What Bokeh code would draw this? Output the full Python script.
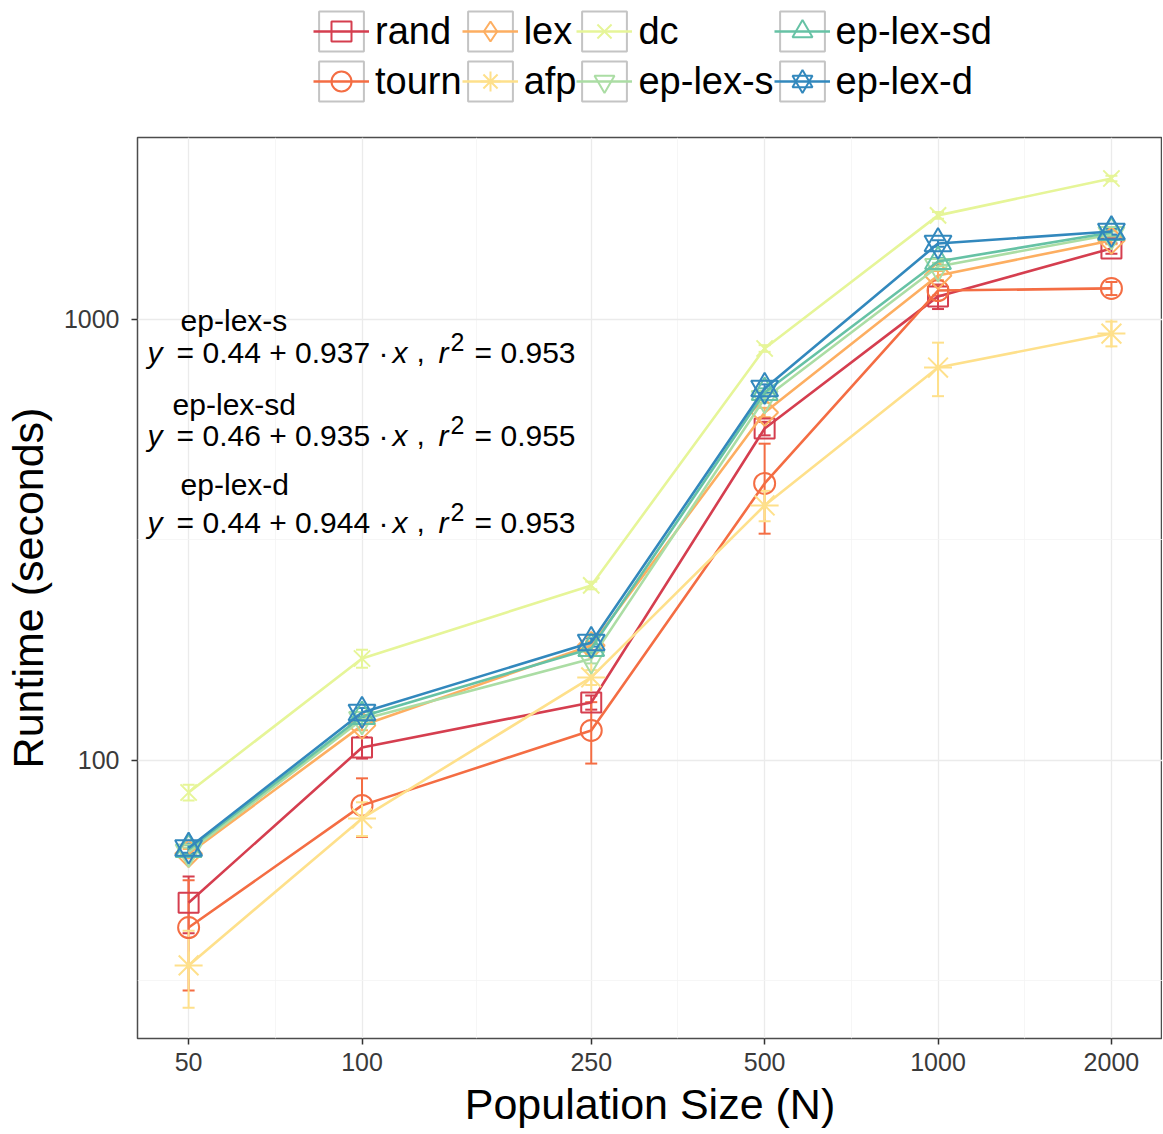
import math
from bokeh.plotting import figure
from bokeh.layouts import column
from bokeh.models import (FixedTicker, NumeralTickFormatter, Legend, LegendItem,
                          Whisker, TeeHead, ColumnDataSource, Label)
from bokeh.embed import file_html
from bokeh.resources import INLINE

# ---------------- data ----------------
pop_sizes = [50, 100, 250, 500, 1000, 2000]
methods = ["rand", "tourn", "lex", "afp", "dc", "ep-lex-s", "ep-lex-sd", "ep-lex-d"]

runtime_rand = [47.6, 107.0, 135.4, 566.0, 1128.0, 1449.0]
runtime_tourn = [41.8, 79.1, 117.0, 424.8, 1163.0, 1176.0]
runtime_lex = [61.5, 120.1, 182.3, 615.4, 1258.0, 1511.0]
runtime_afp = [34.3, 73.9, 154.3, 378.7, 778.0, 929.0]
runtime_dc = [84.6, 170.3, 249.4, 859.5, 1722.0, 2088.0]
runtime_ep_lex_s = [62.0, 123.9, 170.0, 662.0, 1319.0, 1559.0]
runtime_ep_lex_sd = [62.8, 125.8, 179.5, 683.0, 1354.0, 1575.0]
runtime_ep_lex_d = [63.3, 128.5, 185.2, 697.6, 1487.0, 1583.0]

se_rand = [7.0, 6.0, 5.0, 20.0, 72.0, 40.0]
se_tourn = [11.7, 12.0, 18.6, 98.0, 30.0, 40.0]
se_lex = [1.5, 3.0, 4.0, 15.0, 30.0, 30.0]
se_afp = [6.8, 6.5, 6.0, 30.0, 108.0, 60.0]
se_dc = [3.5, 8.0, 5.0, 15.0, 30.0, 30.0]
se_ep_lex_s = [1.5, 3.0, 4.0, 15.0, 25.0, 25.0]
se_ep_lex_sd = [1.5, 3.0, 4.0, 15.0, 25.0, 25.0]
se_ep_lex_d = [1.5, 3.0, 4.0, 15.0, 25.0, 25.0]

runtimes = [runtime_rand, runtime_tourn, runtime_lex, runtime_afp, runtime_dc,
            runtime_ep_lex_s, runtime_ep_lex_sd, runtime_ep_lex_d]
ses = [se_rand, se_tourn, se_lex, se_afp, se_dc, se_ep_lex_s, se_ep_lex_sd, se_ep_lex_d]

x_ticks = [50, 100, 250, 500, 1000, 2000]
y_ticks = [100, 1000]

fit_names = ["ep-lex-s", "ep-lex-sd", "ep-lex-d"]
fit_intercepts = [0.44, 0.46, 0.44]
fit_slopes = [0.937, 0.935, 0.944]
fit_r2 = [0.953, 0.955, 0.953]

# ---------------- styles ----------------
colors = ["#D53E4F", "#F46D43", "#FDAE61", "#FEE08B", "#E6F598", "#ABDDA4", "#66C2A5", "#3288BD"]
# (marker, size, angle) per series; lex uses a square turned 45 degrees
markers = [[("square", 20, 0.0)], [("circle", 21, 0.0)], [("square", 19, math.pi / 4)],
           [("asterisk", 28, 0.0)], [("x", 23, 0.0)],
           [("inverted_triangle", 26, 0.0)], [("triangle", 26, 0.0)],
           [("triangle", 27, 0.0), ("inverted_triangle", 27, 0.0)]]
legend_markers = [["square"], ["circle"], ["diamond"], ["asterisk"], ["x"],
                  ["inverted_triangle"], ["triangle"], ["triangle", "inverted_triangle"]]
FONT = "Liberation Sans"

# ---------------- main plot ----------------
p = figure(width=1162, height=998, x_axis_type="log", y_axis_type="log",
           x_range=(40.76, 2453), y_range=(23.42, 2586),
           output_backend="svg", toolbar_location=None,
           min_border_left=137, min_border_right=0, min_border_top=2, min_border_bottom=95)
p.background_fill_color = "white"
p.border_fill_color = "white"
p.outline_line_color = "#4d4d4d"
p.outline_line_width = 1.5

p.xaxis.ticker = FixedTicker(ticks=x_ticks,
                             minor_ticks=[math.sqrt(a * b) for a, b in zip(x_ticks[:-1], x_ticks[1:])])
p.yaxis.ticker = FixedTicker(ticks=y_ticks, minor_ticks=[math.sqrt(10 * 100), math.sqrt(100 * 1000)])
p.xaxis.formatter = NumeralTickFormatter(format="0")
p.yaxis.formatter = NumeralTickFormatter(format="0")

p.grid.grid_line_color = "#ebebeb"
p.grid.grid_line_width = 1.3
p.grid.minor_grid_line_color = "#f4f4f4"
p.grid.minor_grid_line_width = 0.8

p.axis.axis_line_color = None
p.axis.minor_tick_line_color = None
p.axis.major_tick_line_color = "#333333"
p.axis.major_tick_line_width = 1.5
p.axis.major_tick_out = 6
p.axis.major_tick_in = 0
p.axis.major_label_text_font = FONT
p.axis.major_label_text_font_size = "25px"
p.axis.major_label_text_color = "#3a3a3a"
p.xaxis.major_label_standoff = 8
p.yaxis.major_label_standoff = 12
p.axis.axis_label_text_font = FONT
p.axis.axis_label_text_font_size = "43px"
p.axis.axis_label_text_font_style = "normal"
p.axis.axis_label_text_color = "black"
p.xaxis.axis_label = "Population Size (N)"
p.yaxis.axis_label = "Runtime (seconds)"
p.xaxis.axis_label_standoff = 6
p.yaxis.axis_label_standoff = 9

for name, vals, se, c, mk in zip(methods, runtimes, ses, colors, markers):
    src = ColumnDataSource(dict(x=pop_sizes, y=vals,
                                lower=[v - s for v, s in zip(vals, se)],
                                upper=[v + s for v, s in zip(vals, se)]))
    p.line("x", "y", source=src, line_color=c, line_width=2.6)
    for m, sz, ang in mk:
        p.scatter("x", "y", source=src, marker=m, size=sz, angle=ang,
                  fill_color=None, line_color=c, line_width=2)
    p.add_layout(Whisker(source=src, base="x", upper="upper", lower="lower", dimension="height",
                         line_color=c, line_width=2,
                         upper_head=TeeHead(size=12, line_color=c, line_width=2),
                         lower_head=TeeHead(size=12, line_color=c, line_width=2)))

# regression annotations (anchored at N=50, runtime=1000, offsets in pixels)
name_dx = [-8, -16, -8]
name_dy = [-1, -85, -165]
formula_dy = [-33, -116, -203]
for i in range(3):
    p.add_layout(Label(x=50, y=1000, x_offset=name_dx[i], y_offset=name_dy[i], text=fit_names[i],
                       text_font=FONT, text_font_size="30px", text_baseline="alphabetic",
                       text_color="black"))
    segs = [("y", -41, 0, "italic", "30px"),
            ("= %.2f + %.3f ·" % (fit_intercepts[i], fit_slopes[i]), -12, 0, "normal", "30px"),
            ("x", 204, 0, "italic", "30px"),
            (",", 228, 0, "normal", "30px"),
            ("r", 250, 0, "italic", "30px"),
            ("2", 262, 10, "normal", "25px"),
            ("= %.3f" % fit_r2[i], 286, 0, "normal", "30px")]
    for t, dx, dy, st, fs in segs:
        p.add_layout(Label(x=50, y=1000, x_offset=dx, y_offset=formula_dy[i] + dy, text=t,
                           text_font=FONT, text_font_size=fs, text_font_style=st,
                           text_baseline="alphabetic", text_color="black"))

# ---------------- legend strip (keys only; dummy points lie outside its range) ----------------
lg = figure(width=1162, height=135, x_range=(0, 1), y_range=(0, 1),
            output_backend="svg", toolbar_location=None,
            x_axis_location=None, y_axis_location=None, min_border=0)
lg.outline_line_color = None
lg.grid.visible = False
lg.background_fill_color = "white"
lg.border_fill_color = "white"

key_x = [-5]
key_y = [-5]
box = lg.rect(x=key_x, y=key_y, width=0.1, height=0.1, fill_color=None,
              line_color="#c4c4c4", line_width=2)
items = []
for name, c, mk in zip(methods, colors, legend_markers):
    rs = [box, lg.line(x=key_x * 2, y=key_y * 2, line_color=c, line_width=2.5)]
    for m in mk:
        rs.append(lg.scatter(x=key_x, y=key_y, marker=m, fill_color=None, line_color=c, line_width=2))
    items.append(LegendItem(label=name, renderers=rs))

legend = Legend(items=items, location=(176, 29), orientation="vertical", nrows=2,
                glyph_width=56, glyph_height=50, label_standoff=6, spacing=0, padding=0,
                label_text_font=FONT, label_text_font_size="38px", label_text_baseline="middle",
                label_text_color="black", border_line_color=None, background_fill_alpha=0)
lg.add_layout(legend, "center")

layout = column(lg, p, spacing=0)
open("out.html", "w").write(file_html(layout, INLINE))
